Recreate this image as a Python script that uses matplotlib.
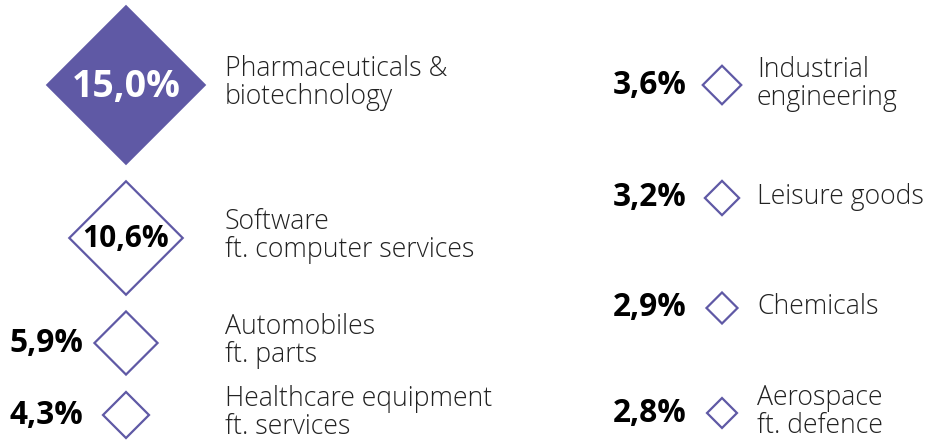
import matplotlib.pyplot as plt
from matplotlib.patches import Polygon

# sector shares of R&D (in %), two columns
left_values = [15.0, 10.6, 5.9, 4.3]
left_labels = ['Pharmaceuticals &\nbiotechnology', 'Software\nft. computer services',
               'Automobiles\nft. parts', 'Healthcare equipment\nft. services']
right_values = [3.6, 3.2, 2.9, 2.8]
right_labels = ['Industrial\nengineering', 'Leisure goods', 'Chemicals',
                'Aerospace\nft. defence']

purple = '#5f59a5'
scale = 5.35  # half diagonal in px per percent

left_rows = [85, 238, 343, 415]
right_rows = [85, 198, 308, 413]

fig = plt.figure(figsize=(9.28, 4.4), dpi=100)
ax = fig.add_axes([0, 0, 1, 1])
ax.set_xlim(0, 928)
ax.set_ylim(440, 0)
ax.axis('off')


def fmt(v):
    return f'{v:.1f}%'.replace('.', ',')


def diamond(cx, cy, v, filled=False):
    h = v * scale
    pts = [(cx, cy - h), (cx + h, cy), (cx, cy + h), (cx - h, cy)]
    if filled:
        p = Polygon(pts, closed=True, facecolor=purple, edgecolor='none')
    else:
        p = Polygon(pts, closed=True, facecolor='white', edgecolor=purple, lw=1.6)
    ax.add_patch(p)


for i, (v, lab, y) in enumerate(zip(left_values, left_labels, left_rows)):
    diamond(126, y, v, filled=(i == 0))
    if i == 0:
        ax.text(126, y + 2, fmt(v), color='white', fontsize=27, fontweight='bold',
                family='Open Sans', ha='center', va='center')
    elif i == 1:
        ax.text(126, y + 1, fmt(v), color='black', fontsize=21.5, fontweight='bold',
                family='Open Sans', ha='center', va='center')
    else:
        ax.text(83, y, fmt(v), color='black', fontsize=22.8, fontweight='bold',
                family='Open Sans', ha='right', va='center')
    ax.text(225, y - 2, lab, fontsize=19.2, family='Open Sans', fontweight='light',
            color='#222222', ha='left', va='center', linespacing=0.97)

for v, lab, y in zip(right_values, right_labels, right_rows):
    diamond(722, y, v)
    ax.text(687, y, fmt(v), color='black', fontsize=22.8, fontweight='bold',
            family='Open Sans', ha='right', va='center')
    ax.text(757, y - 1, lab, fontsize=19.2, family='Open Sans', fontweight='light',
            color='#222222', ha='left', va='center', linespacing=0.97)

fig.savefig('out.png', dpi=100)
